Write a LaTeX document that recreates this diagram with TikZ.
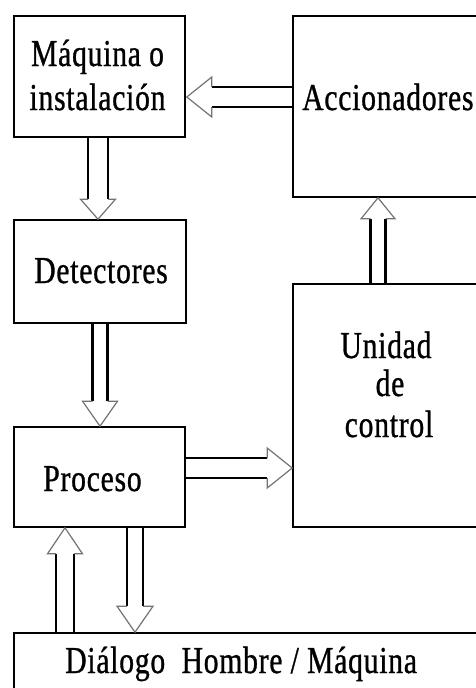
\documentclass[tikz,border=0pt]{standalone}
\usepackage{fontspec}
\setmainfont{Liberation Serif}[FakeStretch=0.78, LetterSpace=2, FakeBold=0.8]
\usetikzlibrary{calc}
\tikzset{
  box/.style n args={2}{draw=black, line width=2.4pt, inner sep=0pt, minimum width=#1, minimum height=#2},
  shaftline/.style={draw=black, line width=2.4pt},
  headline/.style={draw=black!55, line width=1.2pt, line join=miter},
  txt/.style={inner sep=0pt, font=\fontsize{38}{42}\selectfont},
  pics/fatarrow/.style args={#1/#2/#3/#4}{code={
    \draw[shaftline] (0,#2) -- (#1-#3,#2) (0,-#2) -- (#1-#3,-#2);
    \draw[headline] (#1-#3,#2) -- (#1-#3,#4) -- (#1,0) -- (#1-#3,-#4) -- (#1-#3,-#2);
  }}
}
\begin{document}
\begin{tikzpicture}[x=1pt,y=-1pt]
\useasboundingbox (0,0) rectangle (476,688);
\clip (0,0) rectangle (476,688);
\fill[white] (0,0) rectangle (476,688);
% boxes
\node[box={171pt}{121pt}] (maq) at (99.5,76.5) {};
\node[box={217pt}{181pt}] (acc) at (401.5,106.5) {};
\node[box={172pt}{103pt}] (det) at (100,271.5) {};
\node[box={171pt}{100pt}] (proc) at (99.5,477) {};
\node[box={217pt}{243pt}] (uc) at (401.5,405.5) {};
\node[box={496pt}{97pt}] (dial) at (262,681.5) {};
% texts
\node[txt, anchor=base] (t1) at (97.5,66) {Máquina o};
\node[txt, anchor=base] (t2) at (97.5,110) {instalación};
\node[txt, anchor=base west] (t3) at (302,110) {Accionadores};
\node[txt, anchor=base] (t4) at (101,283) {Detectores};
\node[txt, anchor=base] (t5) at (92.5,491) {Proceso};
\node[txt, anchor=base] (t6) at (386,358) {Unidad};
\node[txt, anchor=base] (t7) at (390,396) {de};
\node[txt, anchor=base] (t8) at (389,437) {control};
\node[txt, anchor=base west] (t9) at (65,673) {Diálogo\ \ Hombre / Máquina};
% fat arrows
\pic[rotate=180] at ($(acc.west)+(0,-9.5)$) {fatarrow={105/10/25/20}};
\pic[rotate=270] at ($(maq.south)+(-1.5,0)$) {fatarrow={81/10/20/17.5}};
\pic[rotate=270] at (det.south) {fatarrow={102/7.5/25/17.5}};
\pic[rotate=90] at ($(uc.north)+(-23.5,0)$) {fatarrow={85/7.5/21/17}};
\pic[rotate=0] at ($(proc.east)+(0,-9)$) {fatarrow={106/10/25/20}};
\pic[rotate=90] at ($(dial.north)+(-197,0)$) {fatarrow={104/9/26/17.5}};
\pic[rotate=270] at ($(proc.south)+(35.5,0)$) {fatarrow={104/8/26/18}};
\end{tikzpicture}
\end{document}
